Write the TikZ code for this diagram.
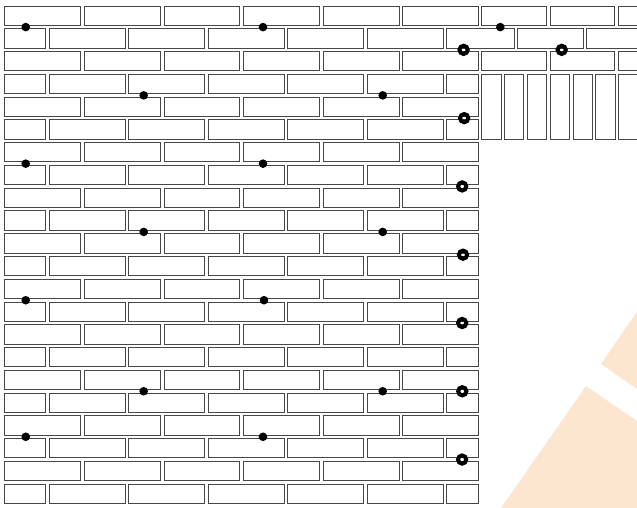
\documentclass[tikz,border=0pt]{standalone}
\usetikzlibrary{calc}
\definecolor{peach}{RGB}{252,230,207}
\tikzset{
  brick/.style={draw=black!72, line width=0.75pt, fill=white},
  dotf/.style={fill=black},
  ringd/.style={draw=black, line width=4pt}
}
\begin{document}
\begin{tikzpicture}[x=1pt,y=-1pt]
\useasboundingbox (0,0) rectangle (637,507);
\clip (0,0) rectangle (637,507);
% background shapes
\fill[peach] (601,364) -- (660,278) -- (660,405) -- cycle;
\fill[peach] (501.7,507) -- (586,386) -- (660,437) -- (660,520) -- (490,520) -- cycle;
% stretcher rows with full bricks at the ends
\foreach \r in {0,2,...,20} {
  \pgfmathsetmacro\yt{6+\r*22.76}
  \foreach \k in {0,...,5}
    \draw[brick] ({4.7+\k*79.6},\yt) rectangle +(75.9,19.3);
}
% rows beginning with a half brick
\foreach \r in {1,3,...,21} {
  \pgfmathsetmacro\yt{6+\r*22.76}
  \draw[brick] (4.7,\yt) rectangle +(40.6,19.3);
  \foreach \k in {0,...,4}
    \draw[brick] ({49+\k*79.6},\yt) rectangle +(75.9,19.3);
}
\foreach \r in {3,5,...,21} {
  \pgfmathsetmacro\yt{6+\r*22.76}
  \draw[brick] (446.3,\yt) rectangle +(32.4,19.3);
}
% upper right wall part
\foreach \r in {0,2} {
  \pgfmathsetmacro\yt{6+\r*22.76}
  \draw[brick] (481.7,\yt) rectangle +(65,19.3);
  \draw[brick] (550,\yt) rectangle +(64.3,19.3);
  \draw[brick] (618.7,\yt) rectangle +(65,19.3);
}
\pgfmathsetmacro\yt{6+22.76}
\draw[brick] (446.3,\yt) rectangle +(68.2,19.3);
\draw[brick] (517.7,\yt) rectangle +(65.6,19.3);
\draw[brick] (586.3,\yt) rectangle +(65,19.3);
% soldier course
\foreach \j in {0,...,6}
  \draw[brick] ({481.7+\j*22.8},74.3) rectangle +(19.3,64.9);
% filled dots
\foreach \x/\r in {25.7/0, 263/0, 500.3/0, 143.7/3, 382.7/3, 25.7/6, 263/6,
                   143.7/9, 382.7/9, 25.7/12, 264/12, 143.7/16, 382.7/16,
                   25.7/18, 263/18}
  \fill[dotf] (\x,{27.1+\r*22.76}) circle[radius=4.3pt];
% ring markers
\foreach \x/\r in {463.6/1, 561.7/1, 464.2/4, 462.2/7, 463/10, 462.2/13,
                   462.3/16, 462.1/19}
  \draw[ringd] (\x,{27.1+\r*22.76}) circle[radius=4.1pt];
\end{tikzpicture}
\end{document}
